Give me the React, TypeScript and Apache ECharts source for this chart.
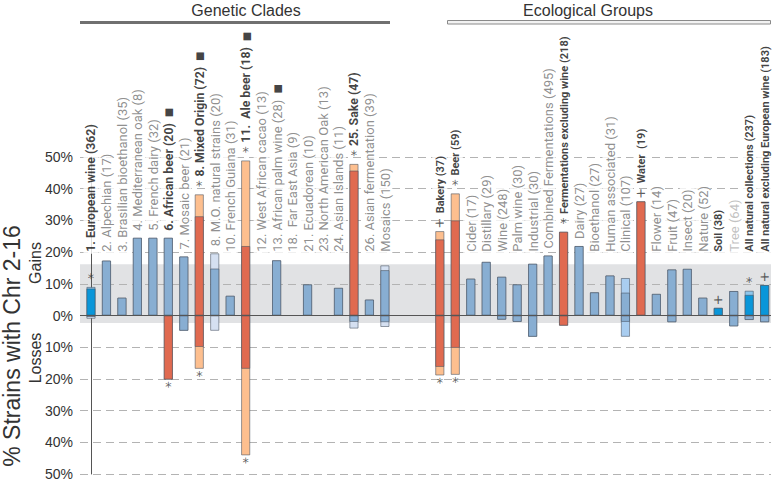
import React, { useEffect, useRef } from 'react';
import * as echarts from 'echarts';

// ---------- Data ----------
const geneticLabels = [
  '1. European wine (362)', '2. Alpechian (17)', '3. Brasilian bioethanol (35)', '4. Mediterranean oak (8)',
  '5. French dairy (32)', '6. African beer (20)', '7. Mosaic beer (21)', '8. Mixed Origin (72)',
  '8. M.O. natural strains (20)', '10. French Guiana (31)', '11.  Ale beer (18)', '12. West African cacao (13)',
  '13. African palm wine (28)', '18.  Far East Asia (9)', '21. Ecuadorean (10)', '23. North American Oak (13)',
  '24. Asian Islands (11)', '25. Sake (47)', '26. Asian fermentation (39)', 'Mosaics (150)',
];
const geneticGain = [8.5, 17.3, 5.6, 24.5, 24.5, 24.5, 18.6, 31.3, 14.8, 6.2, 21.9, 0, 17.4, 0, 9.8, 0, 8.7, 45.7, 5.0, 14.3];
const geneticGainTotal = [9.0, 17.3, 5.6, 24.5, 24.5, 24.5, 18.6, 38.2, 19.6, 6.2, 48.9, 0, 17.4, 0, 9.8, 0, 8.7, 47.8, 5.0, 15.8];
const geneticLoss = [0.4, 0, 0, 0, 0, 20.2, 4.8, 9.9, 0, 0, 16.8, 0, 0, 0, 0, 0, 0, 2.0, 0, 2.1];
const geneticLossTotal = [1.0, 0, 0, 0, 0, 20.2, 4.8, 16.8, 4.8, 0, 44.1, 0, 0, 0, 0, 0, 0, 4.1, 0, 3.6];
const geneticGainKind = ['c', 'n', 'n', 'n', 'n', 'n', 'n', 's', 'n', 'n', 's', 'n', 'n', 'n', 'n', 'n', 'n', 's', 'n', 'n'];
const geneticLossKind = ['n', 'n', 'n', 'n', 'n', 's', 'n', 's', 'n', 'n', 's', 'n', 'n', 'n', 'n', 'n', 'n', 'n', 'n', 'n'];
const geneticTopMark = ['*', '', '', '', '', '', '', '*', '', '', '*', '', '', '', '', '', '', '*', '', ''];
const geneticBottomMark = ['', '', '', '', '', '*', '', '*', '', '', '*', '', '', '', '', '', '', '', '', ''];
const geneticTextStyle = ['b', 'g', 'g', 'g', 'g', 'b', 'g', 'b', 'g', 'g', 'b', 'g', 'g', 'g', 'g', 'g', 'g', 'b', 'g', 'g'];
const geneticSquare = [0, 0, 0, 0, 0, 1, 0, 1, 0, 0, 1, 0, 1, 0, 0, 0, 0, 0, 0, 0];

const ecologicalLabels = [
  'Bakery (37)', 'Beer (59)', 'Cider (17)', 'Distillary (29)', 'Wine (248)', 'Palm wine (30)', 'Industrial (30)',
  'Combined Fermentations (495)', 'Fermentations excluding wine (218)', 'Dairy (27)', 'Bioethanol (27)',
  'Human associated (31)', 'Clinical (107)', 'Water  (19)', 'Flower (14)', 'Fruit (47)', 'Insect (20)',
  'Nature (52)', 'Soil (38)', 'Tree (64)', 'All natural collections (237)', 'All natural excluding European wine (183)',
];
const ecologicalGain = [24.0, 30.0, 11.6, 16.9, 12.2, 9.8, 16.3, 18.9, 26.4, 21.9, 7.3, 12.6, 7.2, 36.0, 6.8, 14.5, 14.7, 5.6, 2.4, 7.7, 6.5, 9.6];
const ecologicalGainTotal = [26.6, 38.5, 11.6, 16.9, 12.2, 9.8, 16.3, 18.9, 26.4, 21.9, 7.3, 12.6, 11.8, 36.0, 6.8, 14.5, 14.7, 5.6, 2.4, 7.7, 7.8, 9.6];
const ecologicalLoss = [16.2, 10.2, 0, 0, 1.3, 2.0, 6.7, 0, 3.2, 0, 0, 0, 2.0, 0, 0, 2.1, 0, 0, 0, 3.4, 1.4, 2.1];
const ecologicalLossTotal = [18.9, 18.7, 0, 0, 1.3, 2.0, 6.7, 0, 3.2, 0, 0, 0, 6.7, 0, 0, 2.1, 0, 0, 0, 3.4, 1.4, 2.1];
const ecologicalGainKind = ['s', 's', 'n', 'n', 'n', 'n', 'n', 'n', 's', 'n', 'n', 'n', 'k', 's', 'n', 'n', 'n', 'n', 'c', 'n', 'c', 'c'];
const ecologicalLossKind = ['s', 's', 'n', 'n', 'n', 'n', 'n', 'n', 's', 'n', 'n', 'n', 'k', 'n', 'n', 'n', 'n', 'n', 'n', 'n', 'n', 'n'];
const ecologicalTopMark = ['+', '*', '', '', '', '', '', '', '*', '', '', '', '', '+', '', '', '', '', '+', '', '*', '+'];
const ecologicalBottomMark = ['*', '*', '', '', '', '', '', '', '', '', '', '', '', '', '', '', '', '', '', '', '', ''];
const ecologicalTextStyle = ['e', 'e', 'g', 'g', 'g', 'g', 'g', 'g', 'e', 'g', 'g', 'g', 'g', 'e', 'g', 'g', 'g', 'g', 'e', 'l', 'e', 'e'];
const ecologicalSquare = [0, 0, 0, 0, 0, 0, 0, 0, 0, 0, 0, 0, 0, 0, 0, 0, 0, 0, 0, 0, 0, 0];

const yTicks = [-50, -40, -30, -20, -10, 0, 10, 20, 30, 40, 50];
const bandRange = [-2.4, 16.2];

// ---------- Layout / style ----------
const ECO_OFFSET = 22.55;
const LABEL_FLOOR = 19.5;
const COLORS: Record<string, { dark: string; light: string }> = {
  n: { dark: '#88aed2', light: '#d5e0f1' },
  k: { dark: '#88aed2', light: '#a9cdf0' },
  s: { dark: '#e06a50', light: '#fdbf8f' },
  c: { dark: '#0a96d9', light: '#8dc6ec' },
};

type Item = {
  x: number; label: string; gain: number; gainTotal: number; loss: number; lossTotal: number;
  gk: string; lk: string; top: string; bottom: string; style: string; square: number;
};

function buildItems(): Item[] {
  const items: Item[] = [];
  geneticLabels.forEach((label, i) => items.push({
    x: i, label, gain: geneticGain[i], gainTotal: geneticGainTotal[i], loss: geneticLoss[i],
    lossTotal: geneticLossTotal[i], gk: geneticGainKind[i], lk: geneticLossKind[i], top: geneticTopMark[i],
    bottom: geneticBottomMark[i], style: geneticTextStyle[i], square: geneticSquare[i],
  }));
  ecologicalLabels.forEach((label, j) => items.push({
    x: ECO_OFFSET + j, label, gain: ecologicalGain[j], gainTotal: ecologicalGainTotal[j], loss: ecologicalLoss[j],
    lossTotal: ecologicalLossTotal[j], gk: ecologicalGainKind[j], lk: ecologicalLossKind[j], top: ecologicalTopMark[j],
    bottom: ecologicalBottomMark[j], style: ecologicalTextStyle[j], square: ecologicalSquare[j],
  }));
  return items;
}

function buildOption() {
  const items = buildItems();
  const barBase = {
    type: 'bar', barWidth: 9, barGap: '-100%', z: 3, silent: true,
  };
  const border = { borderColor: 'rgba(70,80,95,0.7)', borderWidth: 0.8 };

  const gainTotalData = items.filter((d) => d.gainTotal > 0).map((d) => ({
    value: [d.x, d.gainTotal], itemStyle: { color: COLORS[d.gk].light, ...border },
  }));
  const gainData = items.filter((d) => d.gain > 0).map((d) => ({
    value: [d.x, d.gain], itemStyle: { color: COLORS[d.gk].dark, ...border },
  }));
  const lossTotalData = items.filter((d) => d.lossTotal > 0).map((d) => ({
    value: [d.x, -d.lossTotal], itemStyle: { color: COLORS[d.lk].light, ...border },
  }));
  const lossData = items.filter((d) => d.loss > 0).map((d) => ({
    value: [d.x, -d.loss], itemStyle: { color: COLORS[d.lk].dark, ...border },
  }));

  const labelData = items.map((d) => ({
    value: [d.x, Math.max(d.gainTotal + (d.top ? 5.0 : 1.6), LABEL_FLOOR)],
    text: `{${d.style}|${d.label}}` + (d.square ? '{sp| }{sq|■}' : ''),
  }));
  const topMarks = items.filter((d) => d.top).map((d) => ({ value: [d.x, d.gainTotal], mark: d.top }));
  const bottomMarks = items.filter((d) => d.bottom).map((d) => ({ value: [d.x, -d.lossTotal], mark: d.bottom }));

  const font = 'Roboto';
  const markLabel = {
    show: true, color: '#333', rotate: 0.6,
    formatter: (p: any) => p.data.mark,
    fontSize: 13, fontFamily: 'DejaVu Sans',
  };

  return {
    animation: false,
    grid: { left: 80, right: 9, top: 157, bottom: 10, containLabel: false },
    xAxis: { type: 'value', min: -0.71, max: 43.96, show: false },
    yAxis: {
      type: 'value', min: yTicks[0], max: yTicks[yTicks.length - 1], interval: 10, z: 2,
      axisLine: { show: true, lineStyle: { color: '#555', width: 1 } },
      axisTick: { show: false },
      axisLabel: {
        color: '#333', fontSize: 14, fontFamily: 'Liberation Sans', margin: 7,
        formatter: (v: number) => `${Math.abs(v)}%`,
      },
      splitLine: { show: true, lineStyle: { color: '#b3b3b3', width: 1.2, type: [8, 5] } },
    },
    series: [
      {
        ...barBase, name: 'gainTotal', data: gainTotalData,
        markArea: {
          silent: true, z: 1,
          itemStyle: { color: '#e1e2e4' },
          data: [[{ yAxis: bandRange[1] }, { yAxis: bandRange[0] }]],
        },
      },
      { ...barBase, name: 'gain', data: gainData },
      { ...barBase, name: 'lossTotal', data: lossTotalData },
      { ...barBase, name: 'loss', data: lossData },
      {
        type: 'scatter', name: 'labels', symbolSize: 0, clip: false, z: 4, silent: true,
        data: labelData,
        label: {
          show: true, position: 'top', distance: 0, rotate: 90, align: 'left', verticalAlign: 'middle',
          backgroundColor: '#fff', padding: [1, 2, 0, 2],
          formatter: (p: any) => p.data.text,
          rich: {
            g: { fontSize: 13, fontFamily: font, color: '#727272', lineHeight: 14 },
            b: { fontSize: 12.3, fontFamily: font, fontWeight: 'bold', color: '#111', lineHeight: 14 },
            e: { fontSize: 11, fontFamily: font, fontWeight: 'bold', color: '#111', lineHeight: 14 },
            l: { fontSize: 13, fontFamily: font, color: '#b2b2b2', lineHeight: 14 },
            sp: { fontSize: 12, fontFamily: font, lineHeight: 14, width: 6 },
            sq: { fontSize: 10, fontFamily: 'DejaVu Sans', color: '#111', lineHeight: 14 },
          },
        },
        markLine: {
          silent: true, symbol: 'none', z: 6,
          label: { show: false },
          lineStyle: { color: '#555', width: 1, type: 'solid' },
          data: [{ yAxis: 0 }],
        },
      },
      {
        type: 'scatter', name: 'topMarks', symbolSize: 0, clip: false, z: 4, silent: true,
        itemStyle: { color: '#333' },
        data: topMarks,
        label: { ...markLabel, position: 'top', distance: 2 },
      },
      {
        type: 'scatter', name: 'bottomMarks', symbolSize: 0, clip: false, z: 4, silent: true,
        itemStyle: { color: '#333' },
        data: bottomMarks,
        label: { ...markLabel, position: 'bottom', distance: 1 },
      },
    ],
    graphic: [
      {
        type: 'text', x: 246, y: 10, z: 10,
        style: { text: 'Genetic Clades', fontSize: 16, fontFamily: 'Liberation Sans', fill: '#333', align: 'center', verticalAlign: 'middle' },
      },
      { type: 'rect', shape: { x: 80, y: 21, width: 310, height: 3 }, style: { fill: '#707070' }, z: 10 },
      {
        type: 'text', x: 588, y: 10, z: 10,
        style: { text: 'Ecological Groups', fontSize: 16, fontFamily: 'Liberation Sans', fill: '#333', align: 'center', verticalAlign: 'middle' },
      },
      { type: 'rect', shape: { x: 447.5, y: 20.5, width: 323, height: 3.5 }, style: { fill: '#f2f2f2', stroke: '#8a8a8a', lineWidth: 1 }, z: 10 },
      {
        type: 'text', x: 12, y: 346, rotation: Math.PI / 2, z: 10,
        style: { text: '% Strains with Chr 2-16', fontSize: 23, fontFamily: 'Liberation Sans', fill: '#333', align: 'center', verticalAlign: 'middle' },
      },
      {
        type: 'text', x: 35, y: 263, rotation: Math.PI / 2, z: 10,
        style: { text: 'Gains', fontSize: 16, fontFamily: 'Liberation Sans', fill: '#333', align: 'center', verticalAlign: 'middle' },
      },
      {
        type: 'text', x: 35, y: 358, rotation: Math.PI / 2, z: 10,
        style: { text: 'Losses', fontSize: 16, fontFamily: 'Liberation Sans', fill: '#333', align: 'center', verticalAlign: 'middle' },
      },
    ],
  };
}

export default function App() {
  const ref = useRef<HTMLDivElement>(null);
  useEffect(() => {
    if (!ref.current) return;
    const chart = echarts.init(ref.current, undefined, { renderer: 'svg' });
    chart.setOption(buildOption() as any);
    return () => chart.dispose();
  }, []);
  return <div ref={ref} style={{ position: 'absolute', left: 0, top: 0, width: 780, height: 484, background: '#fff' }} />;
}
